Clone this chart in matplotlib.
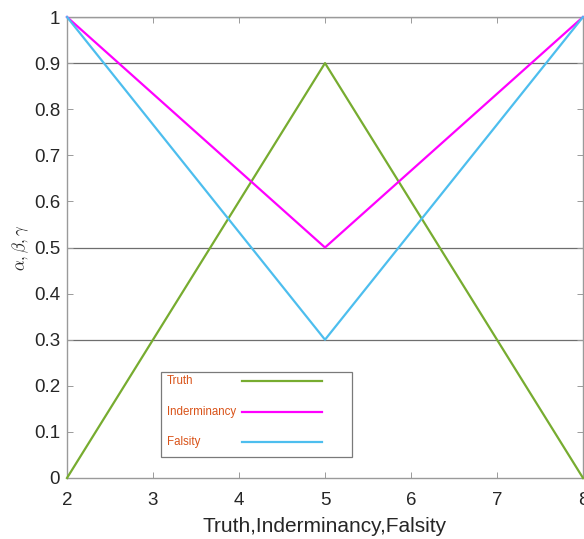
import matplotlib
matplotlib.use("Agg")
import matplotlib.pyplot as plt
from matplotlib.patches import Rectangle

plt.rcParams['font.family'] = ['Liberation Sans', 'DejaVu Sans']
plt.rcParams['mathtext.fontset'] = 'cm'

# membership values at the three breakpoints
x_pts = [2, 5, 8]
truth = [0, 0.9, 0]
indeterminacy = [1, 0.5, 1]
falsity = [1, 0.3, 1]

names = ['Truth', 'Inderminancy', 'Falsity']
colors = ['#77AC30', '#FF00FF', '#4DBEEE']
levels = [0.3, 0.5, 0.9, 1.0]

fig = plt.figure(figsize=(5.84, 5.39), dpi=100)
ax = fig.add_axes([67/584, 1 - 478/539, (583 - 67)/584, (478 - 17)/539])

for y in levels:
    ax.axhline(y, color='#6e6e6e', lw=0.9, zorder=1)

series = [truth, indeterminacy, falsity]
for vals, c in zip(series, colors):
    ax.plot(x_pts, vals, color=c, lw=1.6, zorder=3, clip_on=False)

ax.set_xlim(2, 8)
ax.set_ylim(0, 1)
ax.set_xticks(range(2, 9))
ax.set_yticks([i/10 for i in range(11)])
ax.set_yticklabels(['0'] + [f'{i/10:g}' for i in range(1, 10)] + ['1'])
ax.tick_params(direction='in', length=4, width=0.7, colors='#9a9a9a',
               labelcolor='#262626', labelsize=13.5, top=True, right=True)
ax.tick_params(axis='x', pad=10)
ax.tick_params(axis='y', pad=5)
for s in ax.spines.values():
    s.set_color('#9a9a9a')
    s.set_linewidth(1.0)

ax.set_xlabel('Truth,Inderminancy,Falsity', fontsize=15, color='#262626', labelpad=5.5)
ax.set_ylabel(r'$\alpha,\beta,\gamma$', fontsize=12, color='#262626', labelpad=2)

# hand-built legend box: labels on the left, sample lines on the right
def fx(px):
    return (px - 67) / (583 - 67)

def fy(py):
    return (478 - py) / (478 - 17)

ax.add_patch(Rectangle((fx(161), fy(457)), fx(352) - fx(161), fy(372) - fy(457),
                       transform=ax.transAxes, fill=True, facecolor='white',
                       edgecolor='#7a7a7a', lw=0.9, zorder=4))
rows = [381, 412, 442]
for name, c, py in zip(names, colors, rows):
    ax.text(fx(167), fy(py), name, transform=ax.transAxes, fontsize=8.3,
            color='#D95319', va='center', ha='left', zorder=5)
    ax.plot([fx(242), fx(322)], [fy(py), fy(py)], transform=ax.transAxes,
            color=c, lw=1.6, zorder=5)

fig.savefig('out.png', dpi=100)
